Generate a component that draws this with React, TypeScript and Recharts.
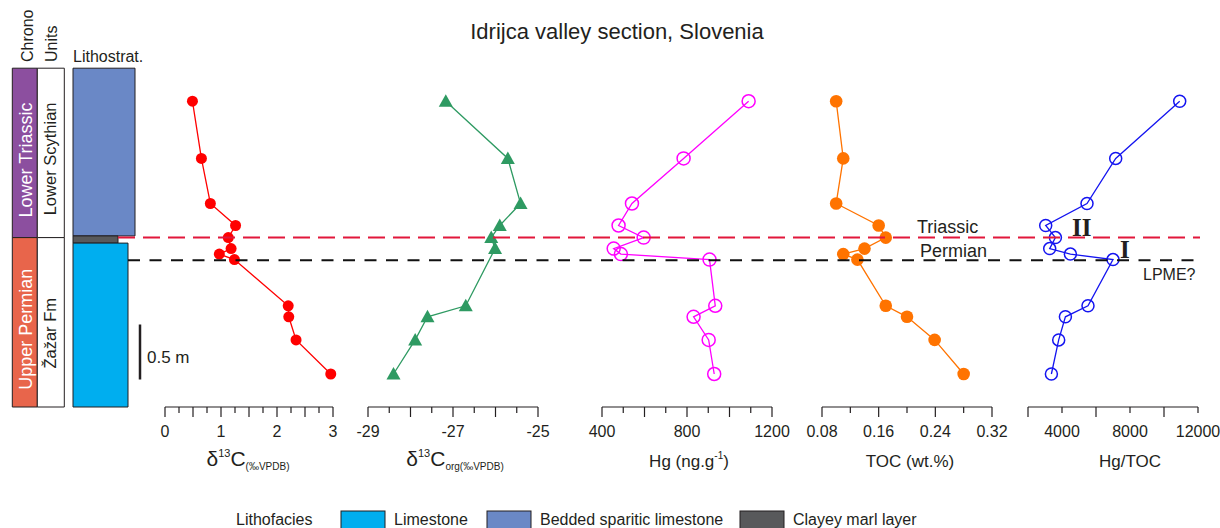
import React from 'react'
import { ScatterChart, Scatter, XAxis, YAxis, ReferenceArea, ReferenceLine } from 'recharts'

// sample heights above the section base (m)
const heights = [2.78, 2.26, 1.85, 1.65, 1.54, 1.44, 1.39, 1.34, 0.92, 0.82, 0.61, 0.3]
const d13cValues = [0.49, 0.65, 0.81, 1.26, 1.13, 1.18, 0.97, 1.24, 2.2, 2.21, 2.34, 2.96]
const d13cOrgHeights = [2.78, 2.26, 1.85, 1.65, 1.54, 1.44, 0.92, 0.82, 0.61, 0.3]
const d13cOrgValues = [-27.17, -25.71, -25.41, -25.9, -26.1, -26.01, -26.7, -27.6, -27.89, -28.4]
const hgValues = [1090, 784, 541, 478, 596, 455, 489, 906, 933, 831, 902, 928]
const tocValues = [0.1, 0.11, 0.1, 0.16, 0.17, 0.14, 0.11, 0.13, 0.17, 0.2, 0.239, 0.28]
const hgTocValues = [10924, 7159, 5471, 3041, 3612, 3276, 4494, 7000, 5529, 4200, 3806, 3376]

const d13cTicks = [0, 0.25, 0.5, 0.75, 1, 1.25, 1.5, 1.75, 2, 2.25, 2.5, 2.75, 3]
const d13cLabels = [0, 1, 2, 3]
const d13cOrgTicks = [-29, -28.5, -28, -27.5, -27, -26.5, -26, -25.5, -25]
const d13cOrgLabels = [-29, -27, -25]
const hgTicks = [400, 500, 600, 700, 800, 900, 1000, 1100, 1200]
const hgLabels = [400, 800, 1200]
const tocTicks = [0.08, 0.12, 0.16, 0.2, 0.24, 0.28, 0.32]
const tocLabels = [0.08, 0.16, 0.24, 0.32]
const hgTocTicks = [2000, 4000, 6000, 8000, 10000, 12000]
const hgTocLabels = [4000, 8000, 12000]

// boundaries (m)
const ptBoundary = 1.54
const lpme = 1.335
const scaleBar = [0.25, 0.75]

const chronoUnits = [
  { name: 'Lower Triassic', base: 1.54, top: 3.08 },
  { name: 'Upper Permian', base: 0, top: 1.54 },
]
const stratUnits = [
  { name: 'Lower Scythian', base: 1.54, top: 3.08 },
  { name: 'Žažar Fm', base: 0, top: 1.54 },
]
const lithoLayers = [
  { facies: 'Bedded sparitic limestone', base: 1.555, top: 3.08 },
  { facies: 'Clayey marl layer', base: 1.49, top: 1.555 },
  { facies: 'Limestone', base: 0, top: 1.49 },
]
const legendFacies = ['Limestone', 'Bedded sparitic limestone', 'Clayey marl layer']

const chronoColor: Record<string, string> = { 'Lower Triassic': '#8C4F9F', 'Upper Permian': '#E8654B' }
const faciesColor: Record<string, string> = {
  Limestone: '#00AEEF',
  'Bedded sparitic limestone': '#6A88C6',
  'Clayey marl layer': '#58595B',
}
const faciesWidth: Record<string, number> = {
  Limestone: 55,
  'Bedded sparitic limestone': 62,
  'Clayey marl layer': 45,
}

const FONT = '"Liberation Sans", Arial, sans-serif'
const INK = '#231F20'
const Y_MAX = 3.1
const PLOT_BOTTOM = 407
const PX_PER_M = 110
const PLOT_TOP = PLOT_BOTTOM - Y_MAX * PX_PER_M
const yPx = (h: number) => PLOT_BOTTOM - h * PX_PER_M

const pts = (hs: number[], vs: number[]) => hs.map((h, i) => ({ h, v: vs[i] }))

const same = (a: number, b: number) => Math.abs(a - b) < 1e-9

const makeTick = (ticks: number[], labels: number[]) => (props: any) => {
  const { x, y, payload } = props
  const i = ticks.findIndex((t) => same(t, payload.value))
  const major = i % 2 === 0
  const show = labels.some((l) => same(l, payload.value))
  return (
    <g>
      <line x1={x} x2={x} y1={y} y2={y + (major ? 10 : 6)} stroke={INK} strokeWidth={1.2} />
      {show && (
        <text x={x} y={y + 30} textAnchor='middle' fontSize={16} fill={INK} fontFamily={FONT}>
          {payload.value}
        </text>
      )}
    </g>
  )
}

const dot = (color: string, r: number) => (p: any) => <circle cx={p.cx} cy={p.cy} r={r} fill={color} />
const ring = (color: string, r: number) => (p: any) => (
  <circle cx={p.cx} cy={p.cy} r={r} fill='none' stroke={color} strokeWidth={1.5} />
)
const tri = (color: string) => (p: any) => (
  <path d={`M${p.cx},${p.cy - 7} L${p.cx + 7},${p.cy + 5.5} L${p.cx - 7},${p.cy + 5.5} Z`} fill={color} />
)

const PAD = 30

function Panel(props: {
  left: number
  width: number
  domain: [number, number]
  ticks: number[]
  labels: number[]
  data: { h: number; v: number }[]
  color: string
  shape: any
}) {
  const { left, width, domain, ticks, labels, data, color, shape } = props
  return (
    <div style={{ position: 'absolute', left: left - PAD, top: 0 }}>
      <ScatterChart
        width={width + PAD * 2}
        height={528}
        margin={{ top: PLOT_TOP, right: PAD, bottom: 528 - PLOT_BOTTOM - 50, left: PAD }}
      >
        <XAxis
          type='number'
          dataKey='v'
          domain={domain}
          ticks={ticks}
          interval={0}
          height={50}
          axisLine={{ stroke: INK, strokeWidth: 1.2 }}
          tickLine={false}
          tickSize={0}
          tickMargin={0}
          tick={makeTick(ticks, labels)}
        />
        <YAxis type='number' dataKey='h' domain={[0, Y_MAX]} hide />
        <Scatter
          data={data}
          fill={color}
          line={{ stroke: color, strokeWidth: 1.3 }}
          shape={shape}
          isAnimationActive={false}
        />
      </ScatterChart>
    </div>
  )
}

function Frame() {
  return (
    <div style={{ position: 'absolute', left: 0, top: 0 }}>
      <ScatterChart width={1220} height={528} margin={{ top: PLOT_TOP, right: 0, bottom: 528 - PLOT_BOTTOM, left: 0 }}>
        <XAxis type='number' dataKey='x' domain={[0, 1220]} hide allowDataOverflow />
        <YAxis type='number' dataKey='h' domain={[0, Y_MAX]} hide allowDataOverflow />
        <Scatter data={[]} isAnimationActive={false} />
        {chronoUnits.map((u) => (
          <ReferenceArea
            key={u.name}
            x1={12.3}
            x2={37.3}
            y1={u.base}
            y2={u.top}
            fill={chronoColor[u.name]}
            fillOpacity={1}
            stroke={INK}
            strokeWidth={1}
          />
        ))}
        {stratUnits.map((u) => (
          <ReferenceArea
            key={u.name}
            x1={37.3}
            x2={64.3}
            y1={u.base}
            y2={u.top}
            fill='#fff'
            fillOpacity={1}
            stroke={INK}
            strokeWidth={1}
          />
        ))}
        {lithoLayers.map((l) => (
          <ReferenceArea
            key={l.facies}
            x1={73}
            x2={73 + faciesWidth[l.facies]}
            y1={l.base}
            y2={l.top}
            fill={faciesColor[l.facies]}
            fillOpacity={1}
            stroke={INK}
            strokeWidth={1}
          />
        ))}
        <ReferenceLine
          segment={[{ x: 140, y: scaleBar[0] }, { x: 140, y: scaleBar[1] }]}
          stroke={INK}
          strokeWidth={2.5}
        />
        <ReferenceLine
          segment={[{ x: 118, y: ptBoundary }, { x: 1200, y: ptBoundary }]}
          stroke='#E2173B'
          strokeWidth={2}
          strokeDasharray='17 8'
        />
        <ReferenceLine
          segment={[{ x: 128, y: lpme }, { x: 1200, y: lpme }]}
          stroke='#111'
          strokeWidth={2}
          strokeDasharray='12 9.5'
        />
      </ScatterChart>
    </div>
  )
}

function Labels() {
  const legendX = [341, 487, 740]
  return (
    <svg
      width={1220}
      height={528}
      style={{ position: 'absolute', left: 0, top: 0, pointerEvents: 'none' }}
      fontFamily={FONT}
      fill={INK}
    >
      <text x={617} y={39} textAnchor='middle' fontSize={22}>
        Idrijca valley section, Slovenia
      </text>
      <text transform='translate(33,62) rotate(-90)' fontSize={16}>Chrono</text>
      <text transform='translate(57,62) rotate(-90)' fontSize={16}>Units</text>
      <text x={73} y={62} fontSize={16}>Lithostrat.</text>
      {chronoUnits.map((u) => (
        <text
          key={u.name}
          transform={`translate(31.5,${yPx((u.base + u.top) / 2) + 7}) rotate(-90)`}
          textAnchor='middle'
          fontSize={18}
          fill='#fff'
        >
          {u.name}
        </text>
      ))}
      {stratUnits.map((u) => (
        <text
          key={u.name}
          transform={`translate(56,${yPx((u.base + u.top) / 2) + (u.base === 0 ? 11 : 6)}) rotate(-90)`}
          textAnchor='middle'
          fontSize={16.5}
        >
          {u.name}
        </text>
      ))}
      <text x={147} y={363} fontSize={17}>0.5 m</text>
      <text x={917} y={232.5} fontSize={18}>Triassic</text>
      <text x={920} y={256.5} fontSize={18}>Permian</text>
      <text x={1143} y={280} fontSize={16}>LPME?</text>
      <text x={1072} y={236} fontSize={25} fontWeight='bold' fontFamily='"Liberation Serif", "Times New Roman", serif'>
        II
      </text>
      <text x={1120} y={258} fontSize={25} fontWeight='bold' fontFamily='"Liberation Serif", "Times New Roman", serif'>
        I
      </text>

      <text x={248} y={466} textAnchor='middle'>
        <tspan fontSize={21}>δ</tspan>
        <tspan fontSize={11} dy={-9}>13</tspan>
        <tspan fontSize={21} dy={9}>C</tspan>
        <tspan fontSize={10} dy={4}>(‰VPDB)</tspan>
      </text>
      <text x={455} y={466} textAnchor='middle'>
        <tspan fontSize={21}>δ</tspan>
        <tspan fontSize={11} dy={-9}>13</tspan>
        <tspan fontSize={21} dy={9}>C</tspan>
        <tspan fontSize={10} dy={4}>org(‰VPDB)</tspan>
      </text>
      <text x={689} y={467} textAnchor='middle' fontSize={17}>
        Hg (ng.g<tspan fontSize={10} dy={-8}>-1</tspan>
        <tspan dy={8}>)</tspan>
      </text>
      <text x={910} y={467} textAnchor='middle' fontSize={17}>TOC (wt.%)</text>
      <text x={1130} y={467} textAnchor='middle' fontSize={17}>Hg/TOC</text>

      <text x={236} y={525} fontSize={16}>Lithofacies</text>
      {legendFacies.map((f, i) => (
        <g key={f}>
          <rect x={legendX[i]} y={511} width={44} height={20} fill={faciesColor[f]} stroke={INK} strokeWidth={1} />
          <text x={legendX[i] + 53} y={525} fontSize={16}>
            {f}
          </text>
        </g>
      ))}
    </svg>
  )
}

export default function App() {
  return (
    <div style={{ position: 'absolute', left: 0, top: 0, width: 1220, height: 528, background: '#fff', overflow: 'hidden' }}>
      <Panel
        left={164.7}
        width={168}
        domain={[0, 3]}
        ticks={d13cTicks}
        labels={d13cLabels}
        data={pts(heights, d13cValues)}
        color='#FF0000'
        shape={dot('#FF0000', 5.5)}
      />
      <Panel
        left={368.3}
        width={170}
        domain={[-29, -25]}
        ticks={d13cOrgTicks}
        labels={d13cOrgLabels}
        data={pts(d13cOrgHeights, d13cOrgValues)}
        color='#2E9A62'
        shape={tri('#2E9A62')}
      />
      <Panel
        left={601.7}
        width={170}
        domain={[400, 1200]}
        ticks={hgTicks}
        labels={hgLabels}
        data={pts(heights, hgValues)}
        color='#FF00FF'
        shape={ring('#FF00FF', 6.5)}
      />
      <Panel
        left={821.7}
        width={170}
        domain={[0.08, 0.32]}
        ticks={tocTicks}
        labels={tocLabels}
        data={pts(heights, tocValues)}
        color='#FF7300'
        shape={dot('#FF7300', 6.3)}
      />
      <Panel
        left={1028.3}
        width={170}
        domain={[2000, 12000]}
        ticks={hgTocTicks}
        labels={hgTocLabels}
        data={pts(heights, hgTocValues)}
        color='#1414F0'
        shape={ring('#1414F0', 6)}
      />
      <Frame />
      <Labels />
    </div>
  )
}
